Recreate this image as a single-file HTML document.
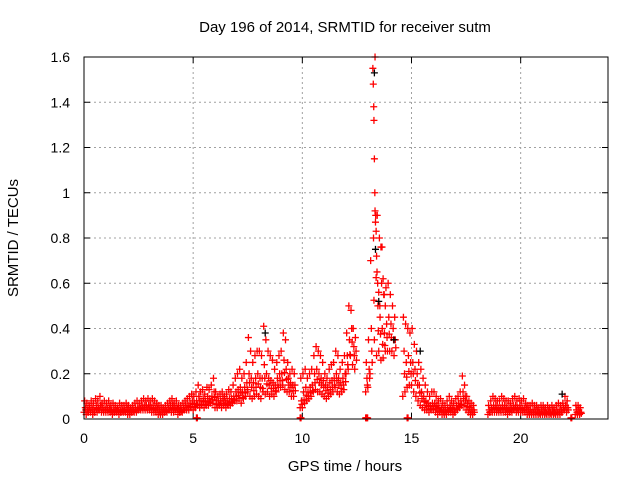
<!DOCTYPE html>
<html><head><meta charset="utf-8"><style>
body{margin:0;background:#fff}
svg text{font-family:"Liberation Sans",sans-serif;font-size:14px;fill:#000}
svg text.big{font-size:15px}
</style></head><body>
<svg id="chart" width="640" height="480">
<text class="big" x="345" y="32" text-anchor="middle">Day 196 of 2014, SRMTID for receiver sutm</text>
<text class="big" x="345" y="471" text-anchor="middle">GPS time / hours</text>
<text class="big" transform="translate(18,238) rotate(-90)" text-anchor="middle">SRMTID / TECUs</text>
<g id="grid"></g><g id="ticks"></g><g id="marks"></g>
<rect x="84" y="57" width="524" height="362" fill="none" stroke="#000" stroke-width="1"/>
</svg>
<script>
const xTicks=[0,5,10,15,20];
const yTicks=[0,0.2,0.4,0.6,0.8,1,1.2,1.4,1.6];
const yTickLabels=["0","0.2","0.4","0.6","0.8","1","1.2","1.4","1.6"];
const N=null;
const hiVals=[.08,.07,.06,.08,.07,.09,.08,.10,.07,.08, .07,.08,.06,.07,.06,.05,.07,.06,.06,.07, .06,.05,.06,.07,.08,.07,.08,.09,.08,.09, .08,.09,.08,.07,.06,.06,.05,.06,.07,.08, .09,.07,.08,.06,.06,.07,.08,.09,.10,.11, .10,.12,.15,.12,.13,.11,.14,.13,.15,.18, .12,.10,.11,.12,.10,.11,.13,.12,.15,.18, .20,.22,.18,.20,.25,.36,.30,.25,.28,.30, .30,.28,.41,.35,.30,.28,.26,.22,.25,.28, .30,.38,.35,.25,.20,.22,.20,N,N,.18, .20,.22,.18,.20,.22,.28,.32,.30,.28,.25, .20,.18,.22,.24,.25,.30,.28,.22,.25,.28, .38,.50,.48,.40,.36,N,N,N,N,.25, .35,.70,1.55,1.60,.90,.80,.60,.55,.58,.60, .55,.50,.45,N,N,N,.45,.42,.40,.38, .40,.33,.30,.25,.22,.18,.15,.12,.10,.12, .12,.10,.08,.09,.07,.06,.08,.10,.08,.07, .09,.10,.12,.19,.15,.10,.08,.07,.06,N, N,N,N,N,N,.06,.08,.10,.09,.08, .08,.10,.09,.08,.08,.07,.09,.10,.08,.09, .08,.09,.07,.06,.06,.07,.06,.06,.05,.06, .06,.05,.06,.05,.06,.05,.06,.07,.06,.07, .10,.08,N,N,N,.06,.06,.05];
const loVals=[.03,.02,.03,.03,.02,.03,.03,.04,.03,.03, .03,.03,.03,.02,.03,.03,.02,.03,.03,.03, .02,.02,.03,.03,.03,.04,.04,.04,.04,.04, .04,.03,.03,.03,.02,.02,.02,.03,.03,.04, .03,.03,.04,.02,.03,.03,.04,.04,.04,.05, .04,.05,.06,.05,.06,.05,.06,.06,.07,.07, .05,.05,.06,.05,.06,.05,.06,.06,.07,.08, .08,.09,.07,.09,.10,.12,.10,.09,.10,.11, .10,.09,.12,.11,.12,.10,.11,.10,.12,.14, .14,.15,.13,.12,.12,.10,.10,N,N,.05, .05,.07,.08,.09,.10,.12,.13,.12,.12,.11, .10,.09,.10,.11,.12,.14,.12,.11,.12,.13, .20,.22,.28,.24,.22,N,N,N,N,.12, .14,.20,.25,.35,.28,.30,.26,.27,.30,.30, .30,.30,.28,N,N,N,.10,.12,.14,.15, .15,.12,.10,.08,.06,.05,.04,.04,.03,.04, .04,.03,.02,.03,.02,.02,.02,.03,.03,.02, .03,.04,.05,.06,.06,.04,.03,.02,.02,N, N,N,N,N,N,.02,.03,.03,.03,.03, .03,.03,.03,.03,.02,.03,.03,.04,.03,.03, .03,.03,.03,.02,.02,.02,.02,.02,.02,.02, .02,.02,.02,.02,.02,.02,.02,.02,.02,.03, .04,.03,N,N,N,.02,.02,.02];
const midVals=[.05,.04,.05,.05,.04,.06,.05,.06,.05,.05, .05,.05,.04,.04,.04,.04,.04,.04,.04,.05, .04,.04,.04,.05,.05,.05,.06,.06,.06,.06, .06,.06,.05,.05,.04,.04,.04,.04,.05,.06, .06,.05,.05,.04,.04,.05,.06,.06,.07,.08, .07,.08,.10,.08,.09,.08,.10,.09,.10,.12, .08,.08,.08,.09,.08,.08,.09,.09,.10,.12, .13,.14,.12,.14,.16,.20,.18,.16,.18,.20, .18,.18,.24,.20,.18,.17,.16,.15,.18,.20, .20,.26,.22,.18,.16,.15,.15,N,N,.08, .12,.14,.12,.14,.15,.20,.22,.20,.18,.17, .15,.14,.16,.17,.18,.20,.18,.16,.18,.20, .28,.35,.40,.32,.30,N,N,N,N,.18, .22,.40,.80,.90,.50,.45,.40,.38,.42,.45, .42,.40,.35,N,N,N,.30,.25,.28,.25, .25,.22,.20,.15,.12,.10,.08,.07,.06,.07, .07,.06,.05,.05,.04,.04,.05,.06,.05,.04, .06,.07,.08,.12,.10,.07,.05,.04,.04,N, N,N,N,N,N,.04,.05,.06,.06,.05, .05,.06,.06,.05,.05,.05,.06,.06,.05,.06, .05,.05,.05,.04,.04,.04,.04,.04,.03,.04, .04,.03,.04,.03,.04,.03,.04,.04,.04,.05, .06,.05,N,N,N,.04,.04,.03];
const peakTimes=[13.25,13.27,13.28,13.3,13.32,13.33,13.35,13.38,13.4,13.42,13.45,13.5,13.55,13.6,13.65,13.7,13.75,13.8];
const peakVals=[1.48,1.38,1.32,1.15,1.0,0.92,0.87,0.83,0.72,0.65,0.6,0.56,0.5,0.76,0.76,0.62,0.55,0.5];
const zeroTimes=[5.15,9.9,12.9,12.95,14.8,22.3];
const blackTimes=[13.3,13.35,13.5,14.2,15.4,8.3,21.9];
const blackVals=[1.53,0.75,0.52,0.35,0.3,0.38,0.11];
const X0=84,X1=608,Y0=419,Y1=57;
const xs=t=>X0+t*(X1-X0)/24;
const ys=v=>Y0-v*(Y0-Y1)/1.6;
const NS="http://www.w3.org/2000/svg";
function mk(tag,attrs,parent){const e=document.createElementNS(NS,tag);for(const k in attrs)e.setAttribute(k,attrs[k]);parent.appendChild(e);return e;}
const grid=document.getElementById('grid'),ticks=document.getElementById('ticks'),marks=document.getElementById('marks');
yTicks.forEach((v,i)=>{const y=ys(v);
 if(i>0&&i<yTicks.length-1){const g=mk('line',{x1:X0,x2:X1,y1:y,y2:y,stroke:'#a0a0a0','stroke-dasharray':'2,3'},grid);
 
 }
 mk('line',{x1:X0,x2:X0+6,y1:y,y2:y,stroke:'#000'},ticks);mk('line',{x1:X1,x2:X1-6,y1:y,y2:y,stroke:'#000'},ticks);
 const t=mk('text',{x:70,y:y+5,'text-anchor':'end'},ticks);t.textContent=yTickLabels[i];
 
 });
xTicks.forEach(v=>{const x=xs(v);
 if(v>0){const g=mk('line',{x1:x,x2:x,y1:Y0,y2:Y1,stroke:'#a0a0a0','stroke-dasharray':'2,3'},grid);
 
 }
 mk('line',{x1:x,x2:x,y1:Y0,y2:Y0-6,stroke:'#000'},ticks);mk('line',{x1:x,x2:x,y1:Y1,y2:Y1+6,stroke:'#000'},ticks);
 const t=mk('text',{x:x,y:443,'text-anchor':'middle'},ticks);t.textContent=String(v);
 
 });
function plus(t,v,col){const x=xs(t),y=ys(v);
 const p=mk('path',{d:`M${x-3.5},${y}h7M${x},${y-3.5}v7`,stroke:col,'stroke-width':1.3,fill:'none'},marks);
 
 }
hiVals.forEach((v,i)=>{const t=i*0.1;
 if(v!==null)plus(t+0.03,v,'#ff0000');
 if(loVals[i]!==null)plus(t,loVals[i],'#ff0000');
 if(midVals[i]!==null){plus(t+0.06,midVals[i],'#ff0000');plus(t+0.08,(midVals[i]+loVals[i])/2,'#ff0000');}});
peakTimes.forEach((t,i)=>plus(t,peakVals[i],'#ff0000'));
zeroTimes.forEach(t=>{plus(t,0.005,'#ff0000');plus(t+0.04,0.005,'#ff0000');});
blackTimes.forEach((t,i)=>plus(t,blackVals[i],'#000'));
</script>
</body></html>
